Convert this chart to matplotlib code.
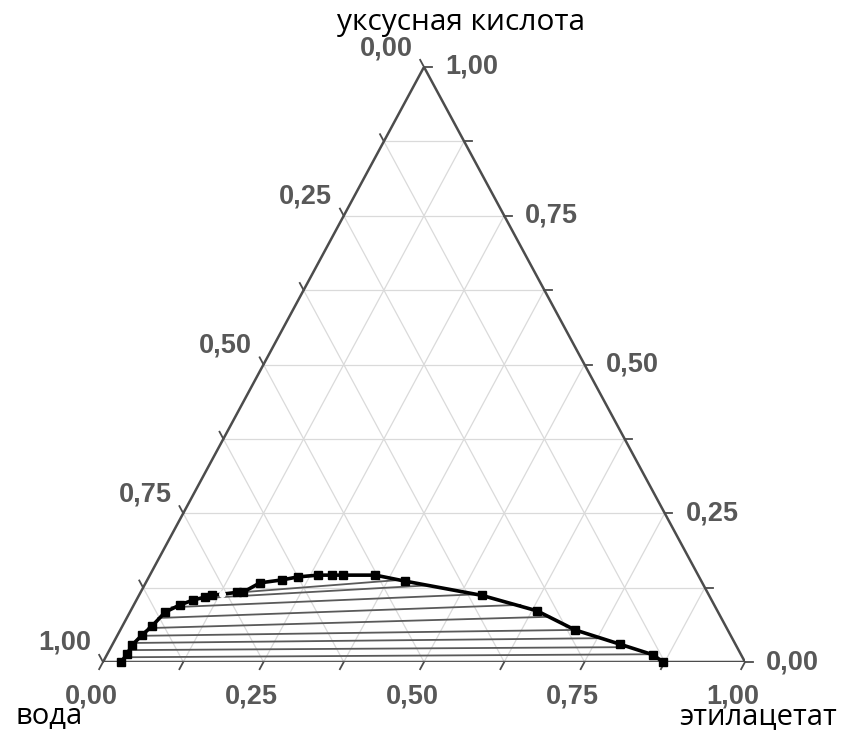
import matplotlib
matplotlib.use('Agg')
import matplotlib.pyplot as plt
from matplotlib import font_manager
import numpy as np

# ---- data (mass fractions) ----
# binodal curve: acetic acid fraction and ethyl acetate fraction
curve_acid = [0.000, 0.013, 0.028, 0.045, 0.060, 0.084, 0.096, 0.104, 0.109, 0.112,
              0.117, 0.117, 0.133, 0.138, 0.143, 0.146, 0.146, 0.146, 0.146, 0.136,
              0.112, 0.086, 0.054, 0.030, 0.012, 0.000]
curve_ea = [0.028, 0.031, 0.031, 0.038, 0.046, 0.055, 0.072, 0.088, 0.104, 0.114,
            0.150, 0.159, 0.178, 0.210, 0.232, 0.262, 0.284, 0.301, 0.351, 0.402,
            0.534, 0.633, 0.708, 0.790, 0.851, 0.872]
# hollow point on the curve
open_acid = [0.114]
open_ea = [0.128]

# tie lines: water-rich end and ester-rich end
tie_left_acid = [0.000, 0.008, 0.020, 0.032, 0.044, 0.057, 0.074, 0.092, 0.107, 0.117]
tie_left_ea = [0.028, 0.030, 0.030, 0.032, 0.036, 0.042, 0.049, 0.061, 0.097, 0.155]
tie_right_acid = [0.000, 0.013, 0.025, 0.040, 0.054, 0.076, 0.096, 0.114, 0.129, 0.138]
tie_right_ea = [0.872, 0.845, 0.808, 0.754, 0.713, 0.658, 0.602, 0.530, 0.445, 0.394]

tick_values = [0.0, 0.25, 0.5, 0.75, 1.0]
tick_labels = ['0,00', '0,25', '0,50', '0,75', '1,00']
minor_values = [k / 8 for k in range(9)]

label_water = 'вода'
label_ea = 'этилацетат'
label_acid = 'уксусная кислота'

# ---- fonts ----
names = {f.name for f in font_manager.fontManager.ttflist}
tick_font = [f for f in ['Liberation Sans', 'DejaVu Sans'] if f in names] or ['DejaVu Sans']
title_font = [f for f in ['Open Sans', 'Noto Sans', 'DejaVu Sans'] if f in names] or ['DejaVu Sans']


def tern(acid, ea):
    acid = np.asarray(acid, dtype=float)
    ea = np.asarray(ea, dtype=float)
    return ea + acid / 2.0, acid


W, H = 844, 732
fig = plt.figure(figsize=(W / 100, H / 100), dpi=100)
fig.patch.set_facecolor('white')
x0, x1, yb, yt = 103, 745, 662, 67
ax = fig.add_axes([x0 / W, (H - yb) / H, (x1 - x0) / W, (yb - yt) / H])
ax.set_xlim(0, 1)
ax.set_ylim(0, 1)
ax.axis('off')

grid_kw = dict(color='#dadada', lw=0.9, zorder=1)
for v in minor_values[1:-1]:
    # constant acid (horizontal)
    ax.plot([v / 2, 1 - v / 2], [v, v], **grid_kw)
    # constant ethyl acetate
    ax.plot([v, v + (1 - v) / 2], [0, 1 - v], **grid_kw)
    # constant water (acid + ea = v)
    ax.plot([v, v / 2], [0, v], **grid_kw)

# triangle
edge_kw = dict(color='#4c4c4c', lw=1.8, zorder=3, solid_capstyle='round')
ax.plot([0, 1, 0.5, 0], [0, 0, 1, 0], **edge_kw)

# ticks
tl = 0.012
tick_kw = dict(color='#4c4c4c', lw=1.3, zorder=3, clip_on=False)
for v in minor_values:
    # bottom: ethyl acetate, ticks going down-left
    ax.plot([v, v - 0.5 * tl], [0, -tl], **tick_kw)
    # left: water, ticks going up-left
    ex, ey = (1 - v) / 2, 1 - v
    ax.plot([ex, ex - 0.5 * tl], [ey, ey + tl], **tick_kw)
    # right: acid, ticks going right
    rx, ry = 1 - v / 2, v
    ax.plot([rx, rx + tl], [ry, ry], **tick_kw)

lab_kw = dict(fontsize=19.5, color='#585858', family=tick_font, fontweight='bold',
              clip_on=False, annotation_clip=False)
for v, s in zip(tick_values, tick_labels):
    # bottom axis: ethyl acetate
    ax.annotate(s, (v, 0), xytext=(-12, -34), textcoords='offset pixels',
                ha='center', va='center', **lab_kw)
    # left axis: water
    ax.annotate(s, ((1 - v) / 2, 1 - v), xytext=(-38, 19), textcoords='offset pixels',
                ha='center', va='center', **lab_kw)
    # right axis: acetic acid
    ax.annotate(s, (1 - v / 2, v), xytext=(21, 0), textcoords='offset pixels',
                ha='left', va='center', **lab_kw)

# tie lines
for la, le, ra, re in zip(tie_left_acid, tie_left_ea, tie_right_acid, tie_right_ea):
    lx, ly = tern(la, le)
    rx, ry = tern(ra, re)
    ax.plot([lx, rx], [ly, ry], color='#5a5a5a', lw=1.3, zorder=4)

# binodal curve
cx, cy = tern(curve_acid, curve_ea)
ax.plot(cx, cy, color='black', lw=2.6, marker='s', ms=6.2, mfc='black', mec='black',
        zorder=6, clip_on=False)
ox, oy = tern(open_acid, open_ea)
ax.plot(ox, oy, 'o', color='white', ms=4, zorder=7)

# component labels
fig.text(15 / W, 1 - 724 / H, label_water, fontsize=21, family=title_font,
         ha='left', va='baseline', color='black')
fig.text(837 / W, 1 - 724 / H, label_ea, fontsize=21, family=title_font,
         ha='right', va='baseline', color='black')
fig.text(461 / W, 1 - 30 / H, label_acid, fontsize=21.5, family=title_font,
         ha='center', va='baseline', color='black')

fig.savefig('out.png', dpi=100, facecolor='white')
